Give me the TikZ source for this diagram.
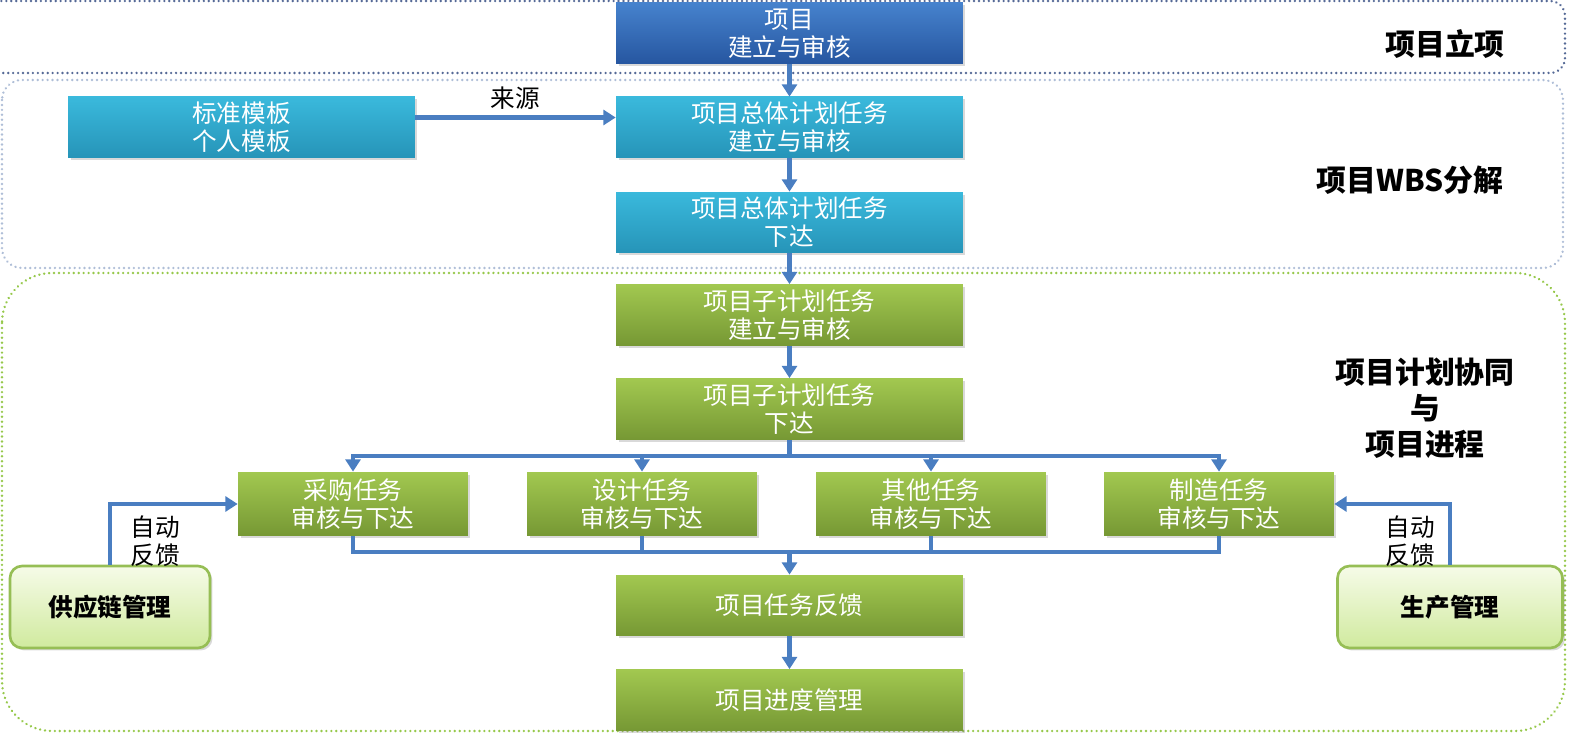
\documentclass[tikz,border=0pt]{standalone}
\usepackage{fontspec}
\setmainfont{Noto Sans CJK SC}
\usepackage{xcolor}
\definecolor{flowblue}{RGB}{74,126,193}
\definecolor{headtop}{RGB}{70,130,205}
\definecolor{headbot}{RGB}{38,86,160}
\definecolor{wbstop}{RGB}{58,185,220}
\definecolor{wbsbot}{RGB}{38,148,184}
\definecolor{leaftop}{RGB}{162,200,80}
\definecolor{leafbot}{RGB}{118,152,52}
\definecolor{paletop}{RGB}{246,251,232}
\definecolor{palebot}{RGB}{208,234,158}
\definecolor{paleedge}{RGB}{150,190,85}
\definecolor{frameA}{RGB}{85,105,150}
\definecolor{frameB}{RGB}{175,190,215}
\definecolor{frameC}{RGB}{150,200,75}
\usetikzlibrary{arrows.meta,shadows}
\tikzset{
  box/.style={minimum width=6.94cm, minimum height=1.22cm, text=white, align=center,
    inner sep=0pt, font=\fontsize{14}{16}\selectfont,
    drop shadow={opacity=0.3, shadow xshift=0.05cm, shadow yshift=-0.05cm}},
  headbox/.style={box, top color=headtop, bottom color=headbot},
  wbsbox/.style={box, top color=wbstop, bottom color=wbsbot},
  planbox/.style={box, top color=leaftop, bottom color=leafbot},
  taskbox/.style={planbox, minimum width=4.6cm, minimum height=1.28cm},
  sysbox/.style={draw=paleedge, line width=1.5pt, rounded corners=0.24cm, top color=paletop,
    bottom color=palebot, minimum height=1.64cm, font=\fontsize{14}{16}\selectfont\bfseries,
    drop shadow={opacity=0.3, shadow xshift=0.05cm, shadow yshift=-0.05cm}},
  flow/.style={draw=flowblue, line width=2.4pt, -{Triangle[width=8.5pt,length=7pt]}},
  link/.style={draw=flowblue, line width=2.4pt},
  frame/.style={dash pattern=on 0.01pt off 2.8pt, line width=1.5pt, line cap=round},
  phase/.style={font=\fontsize{17}{20.5}\selectfont\bfseries, align=center},
  note/.style={font=\fontsize{14}{16}\selectfont, align=center}
}
\begin{document}
\begin{tikzpicture}[x=0.02cm, y=-0.02cm]
    \useasboundingbox (0,0) rectangle (1580,739);
    % phase frames
    \draw[frame, draw=frameA, rounded corners=0.3cm] (-40,1) rectangle (1565,73);
    \draw[frame, draw=frameB, rounded corners=0.4cm] (2,80) rectangle (1563,268);
    \draw[frame, draw=frameC, rounded corners=1cm] (2,273) rectangle (1565,731);
    \node[phase] (p1) at (1445,44) {项目立项};
    \node[phase] (p2) at (1410,180) {项目WBS分解};
    \node[phase] (p3) at (1425,408) {项目计划协同\\与\\项目进程};
    % main column
    \node[headbox] (proj) at (789.5,33.5) {项目\\建立与审核};
    \node[wbsbox] (tpl) at (241.5,127.5) {标准模板\\个人模板};
    \node[wbsbox] (plan) at (789.5,127.5) {项目总体计划任务\\建立与审核};
    \node[wbsbox] (issue) at (789.5,222.5) {项目总体计划任务\\下达};
    \node[planbox] (sub) at (789.5,315) {项目子计划任务\\建立与审核};
    \node[planbox] (subissue) at (789.5,409) {项目子计划任务\\下达};
    \foreach \n/\x/\t in {buy/353/采购任务, design/642/设计任务, other/931/其他任务, make/1219/制造任务}
        \node[taskbox] (\n) at (\x,504) {\t\\审核与下达};
    \node[planbox] (fb) at (789.5,605.5) {项目任务反馈};
    \node[planbox] (prog) at (789.5,700) {项目进度管理};
    \node[sysbox, minimum width=4cm] (scm) at (110,607) {供应链管理};
    \node[sysbox, minimum width=4.5cm] (prod) at (1450,607) {生产管理};
    % connectors
    \draw[flow] (proj.south) -- (plan.north);
    \draw[flow] ([yshift=0.2cm]tpl.east) -- node[note, above] (src) {来源} ([yshift=0.2cm]plan.west);
    \draw[flow] (plan.south) -- (issue.north);
    \draw[flow] (issue.south) -- (sub.north);
    \draw[flow] (sub.south) -- (subissue.north);
    \draw[link] (subissue.south) -- ++(0,16) coordinate (split);
    \foreach \n in {buy,design,other,make} \draw[flow] (split) -| (\n.north);
    \path (fb.north) ++(0,-23) coordinate (merge);
    \foreach \n in {buy,design,other,make} \draw[link] (\n.south) |- (merge);
    \draw[flow] (merge) -- (fb.north);
    \draw[flow] (fb.south) -- (prog.north);
    \draw[flow] (scm.north) |- (buy.west);
    \draw[flow] (prod.north) |- (make.east);
    \node[note] (fbl) at (155,541) {自动\\反馈};
    \node[note] (fbr) at (1410,541) {自动\\反馈};
\end{tikzpicture}
\end{document}
